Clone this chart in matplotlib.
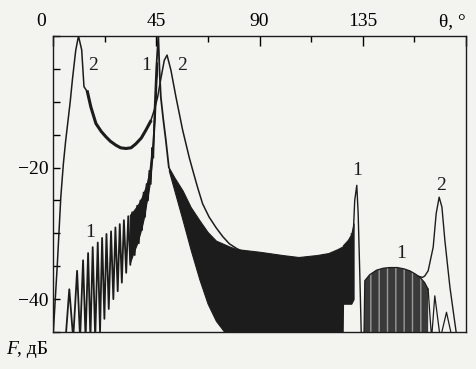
import matplotlib.pyplot as plt
from matplotlib.ticker import MultipleLocator

# curve 2: visible part from 0 to ~84 deg
c2_theta = [0, 0.4, 1.9, 3.4, 4.5, 5.5, 6.5, 7.5, 8.5, 9.9, 11.1, 12.5, 13.5, 15, 16.5,
            18.7, 21, 23, 25, 27.4, 29.5, 31.8, 34, 36.1, 38.5, 40.5, 42.5, 44.1, 45.6,
            47, 48.5, 49.7, 51.4, 53.6, 56.5, 59.4, 60.9, 63, 65.2, 68, 71, 74, 76.9, 80, 84]
c2_db = [-46, -43.5, -34.6, -24.5, -19.5, -16, -13, -10, -6.5, -2.2, 0, -2.1, -7.7, -8.5, -10.8,
         -13.3, -14.5, -15.3, -16, -16.6, -17, -17.1, -17, -16.4, -15.5, -14.3, -13, -11.3, -9.3,
         -6.5, -3.7, -2.9, -5.2, -9.3, -14.3, -18.5, -20.4, -23, -25.5, -27.5, -29.1, -30.5, -31.6, -32.3, -33]

# curve 2: peak near 168 deg
c2r_theta = [159, 161, 162, 163.5, 165.7, 167, 168.3, 169.5, 170.8, 172, 173, 174.5, 175.9]
c2r_db = [-36.5, -36.7, -36.5, -35.7, -32.1, -27, -24.5, -26, -31.1, -35, -38.2, -42, -45.5]

# curve 1: side lobes left of main lobe and main lobe
c1_theta = [5.5, 7.1, 8.8, 10.5, 11.8, 13.1, 14.2, 15.3, 16.3, 17.3, 18.4, 19.5, 20.5, 21.4,
            22.4, 23.3, 24.3, 25.3, 26.3, 27.2, 28.2, 29.1, 30.0, 30.9, 31.9, 32.8, 33.7, 34.5,
            35.6, 36.7, 37.4, 38.1, 38.8, 39.5, 40.1, 40.8, 41.4, 42, 42.6, 43.2, 43.7, 44.3,
            45, 45.9, 46.4, 47, 48, 49.2, 50.5]
c1_db = [-46, -38.5, -46, -35.7, -46, -34.1, -46, -33.0, -46, -32.1, -46, -31.4, -45, -30.7,
         -43, -30.1, -41.5, -29.7, -40, -29.1, -38.8, -28.6, -37.5, -28.0, -36, -27.4, -34.8, -26.8,
         -33.3, -25.8, -31.5, -25.0, -29.5, -23.8, -27.5, -22.5, -25, -20.5, -22.5, -17, -18.5, -11,
         -5, 0, -5, -9.3, -12.5, -15.9, -20]

# curve 1: dense lobes just left of the main lobe (envelopes)
wedge_theta = [33.5, 35, 36.7, 38.1, 39.5, 40.8, 42, 43.2, 44.3, 45.2]
wedge_upper = [-27.2, -26.6, -25.8, -25.0, -23.8, -22.5, -20.5, -17, -11, -4]
wedge_lower = [-34.5, -33, -31.5, -29.8, -27.8, -25.2, -22.8, -18.8, -13, -6]

# curve 1: dense side lobes right of main lobe (envelopes)
band_theta = [50.5, 52.9, 56.5, 60, 63.8, 67.4, 71, 76.9, 80, 90, 100, 107, 115, 120, 124,
              126.2, 126.4, 128.5, 130, 131]
band_upper = [-20, -21.5, -23.5, -26, -28, -29.8, -31.1, -32, -32.4, -32.8, -33.3, -33.6, -33.3,
              -33, -32.4, -32, -31.8, -31, -30.1, -28.5]
band_lower = [-20.5, -23.5, -28, -32.5, -37, -40.7, -43.3, -46, -46, -46, -46, -46, -46, -46, -46,
              -46, -40.7, -40.7, -40.7, -40]

# curve 1: peak near 132 deg
p1_theta = [130, 130.8, 131.5, 132.4, 133, 133.7, 134.4]
p1_db = [-30.1, -30.6, -25, -22.7, -27, -36, -46]

# curve 1: lobes 136..175 deg
dome_theta = [135.5, 135.9, 138, 141, 144, 146.8, 150, 153, 155.5, 158, 160, 162, 163.5]
dome_db = [-46, -37.2, -36.3, -35.6, -35.3, -35.2, -35.2, -35.4, -35.7, -36.2, -36.7, -37.5, -38.5]
tail_theta = [163.5, 165, 166.4, 168.8, 171.5, 174]
tail_db = [-38.5, -46, -39.5, -46, -42, -46]

bg = '#f3f3f0'
ink = '#1c1c1c'
plt.rcParams['font.family'] = ['Liberation Serif', 'DejaVu Serif']

fig = plt.figure(figsize=(4.76, 3.69), dpi=100, facecolor=bg)
ax = fig.add_axes([53 / 476, 37 / 369, 413 / 476, 296 / 369], facecolor=bg)

ax.fill_between(band_theta, band_lower, band_upper, color=ink, lw=0.8)
ax.fill_between(wedge_theta, wedge_lower, wedge_upper, color=ink, lw=0.8)
ax.fill_between(dome_theta, -46, dome_db, facecolor='#3a3a3a', edgecolor='#9a9a9a',
                hatch='||', lw=0)
ax.plot(dome_theta, dome_db, color=ink, lw=0.9)
ax.plot(tail_theta, tail_db, color=ink, lw=0.9)
ax.plot(p1_theta, p1_db, color=ink, lw=1.0)
ax.plot(c1_theta, c1_db, color=ink, lw=1.3)
ax.plot(c2_theta, c2_db, color=ink, lw=1.1)
ax.plot(c2_theta[13:27], c2_db[13:27], color=ink, lw=2.2)
ax.plot(c2r_theta, c2r_db, color=ink, lw=1.0)

ax.set_xlim(0, 180)
ax.set_ylim(-45, 0)

ax.xaxis.tick_top()
ax.set_xticks([0, 45, 90, 135, 180])
ax.set_xticklabels(['', '45', '90', '135', ''])
ax.xaxis.set_minor_locator(MultipleLocator(22.5))
ax.set_yticks([-40, -20])
ax.set_yticklabels(['\u221240', '\u221220'])
ax.yaxis.set_minor_locator(MultipleLocator(5))
ax.tick_params(axis='x', which='major', direction='in', length=7, width=1, labelsize=14, pad=4)
ax.tick_params(axis='x', which='minor', direction='in', length=4, width=1)
ax.tick_params(axis='y', which='both', direction='in', length=5, width=1, labelsize=14, pad=3)
for s in ax.spines.values():
    s.set_linewidth(1.0)
    s.set_color(ink)

for x, s in [(-5, '0'), (174, '\u03b8, \u00b0')]:
    ax.annotate(s, xy=(x, 1), xycoords=('data', 'axes fraction'), xytext=(0, 4),
                textcoords='offset points', fontsize=14, ha='center', va='bottom',
                annotation_clip=False)

for x, y, s in [(17.3, -4.5, '2'), (40.8, -4.5, '1'), (56.2, -4.5, '2'), (16.3, -29.8, '1'),
                (132.5, -20.4, '1'), (151.7, -33, '1'), (169, -22.7, '2')]:
    ax.text(x, y, s, fontsize=14, ha='center', va='center', color=ink)

fig.text(6 / 476, 15 / 369, 'F', fontsize=14, style='italic', ha='left', va='baseline')
fig.text(17 / 476, 15 / 369, ', дБ', fontsize=14, ha='left', va='baseline')

fig.savefig('out.png', dpi=100, facecolor=bg)
